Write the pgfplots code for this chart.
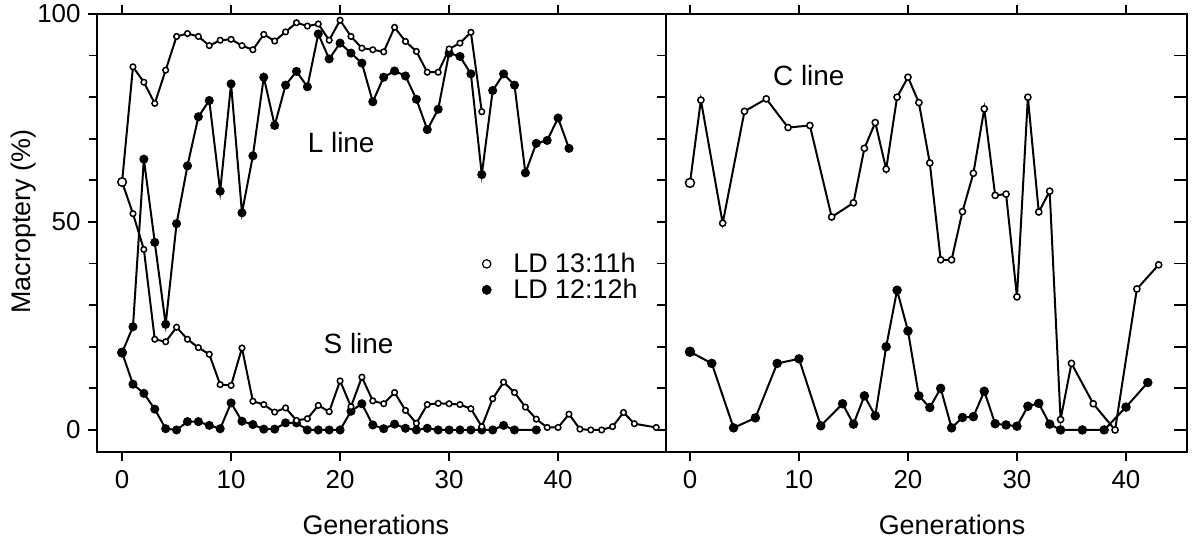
\documentclass[border=0pt]{standalone}
\usepackage{fontspec}
\setmainfont{Liberation Sans}
\usepackage{pgfplots}
\pgfplotsset{compat=1.18}
\newcommand\fs[1]{\fontsize{#1}{#1}\selectfont}

\pgfplotstableread{
g v
0 59.6
1 87.3
2 83.6
3 78.5
4 86.5
5 94.6
6 95.3
7 94.6
8 92.4
9 93.7
10 93.9
11 92.4
12 91.4
13 95.1
14 93.5
15 95.7
16 97.9
17 97.1
18 97.6
19 93.7
20 98.5
21 94.6
22 91.8
23 91.4
24 90.9
25 96.8
26 93.4
27 91.0
28 86.0
29 86.0
30 91.6
31 93.0
32 95.6
33 76.5
}\Lopen

\pgfplotstableread{
g v
0 18.6
1 24.8
2 65.1
3 45.1
4 25.4
5 49.6
6 63.5
7 75.3
8 79.2
9 57.4
10 83.2
11 52.2
12 65.9
13 84.8
14 73.2
15 82.9
16 86.2
17 82.5
18 95.2
19 89.2
20 93.0
21 90.6
22 88.2
23 78.9
24 84.8
25 86.3
26 85.1
27 79.5
28 72.2
29 77.1
30 90.6
31 89.8
32 85.6
33 61.4
34 81.6
35 85.6
36 82.9
37 61.8
38 68.9
39 69.6
40 75.0
41 67.7
}\Lfill

\pgfplotstableread{
g v
0 59.6
1 52.0
2 43.4
3 21.8
4 21.2
5 24.7
6 21.8
7 19.8
8 18.2
9 10.9
10 10.7
11 19.7
12 6.9
13 6.1
14 4.3
15 5.3
16 2.3
17 2.7
18 5.9
19 4.4
20 11.8
21 5.6
22 12.7
23 7.0
24 6.3
25 9.0
26 4.7
27 1.6
28 6.1
29 6.4
30 6.3
31 6.1
32 5.1
33 0.8
34 7.5
35 11.5
36 9.0
37 5.5
38 2.6
39 0.6
40 0.6
41 3.8
42 0.2
43 0.0
44 0.0
45 0.8
46 4.2
47 1.5
49 0.6
}\Sopen

\pgfplotstableread{
g v
0 18.6
1 11.0
2 8.8
3 5.0
4 0.3
5 0.0
6 2.0
7 2.0
8 1.1
9 0.3
10 6.5
11 2.1
12 1.3
13 0.2
14 0.2
15 1.7
16 1.7
17 0.0
18 0.0
19 0.0
20 0.0
21 4.5
22 6.3
23 1.2
24 0.3
25 1.4
26 0.4
27 0.0
28 0.4
29 0.0
30 0.0
31 0.0
32 0.0
33 0.0
34 0.0
35 1.1
36 0.0
38 0.0
}\Sfill

\pgfplotstableread{
g v
0 59.4
1 79.3
3 49.7
5 76.6
7 79.6
9 72.7
11 73.2
13 51.2
15 54.6
16 67.7
17 73.9
18 62.7
19 80.0
20 84.8
21 78.7
22 64.2
23 40.9
24 40.9
25 52.5
26 61.7
27 77.2
28 56.4
29 56.7
30 32.0
31 80.0
32 52.4
33 57.4
34 2.5
35 16.0
37 6.3
39 0.0
41 33.9
43 39.7
}\Copen

\pgfplotstableread{
g v
0 18.8
2 16.0
4 0.5
6 2.9
8 16.0
10 17.1
12 1.0
14 6.3
15 1.4
16 8.2
17 3.4
18 20.0
19 33.6
20 23.8
21 8.2
22 5.4
23 10.0
24 0.5
25 3.0
26 3.2
27 9.3
28 1.5
29 1.2
30 0.9
31 5.7
32 6.4
33 1.4
34 0.0
36 0.0
38 0.0
40 5.5
42 11.4
}\Cfill

\pgfplotsset{
  panel/.style={
    scale only axis, height=438bp,
    ymin=-5.3, ymax=100,
    axis line style={line width=2.2bp},
    every tick/.style={black, line width=1.8bp},
    /pgf/number format/assume math mode=true,
    ticklabel style={font=\fs{26}},
    label style={font=\fs{27}},
  },
  openline/.style={black, line width=2bp, mark=*, mark size=#1, mark options={fill=white, line width=1.5bp}},
  fillline/.style={black, line width=2bp, mark=*, mark size=#1, mark options={fill=black}},
}

\begin{document}
\begin{tikzpicture}
% ---------------- left panel ----------------
\begin{axis}[panel,
  at={(0bp,0bp)}, anchor=south west, width=569bp,
  xmin=-2.3, xmax=49.9,
  tick align=outside, xtick pos=both, xticklabel pos=lower,
  ytick pos=left, yticklabel pos=left,
  xtick={0,10,20,30,40}, ytick={0,50,100},
  minor ytick={10,20,30,40,60,70,80,90},
  major tick length=9bp, minor tick length=8bp,
  xticklabel style={yshift=-6bp},
  yticklabel style={xshift=-4bp},
  xlabel={Generations}, ylabel={Macroptery (\%)},
  xlabel style={at={(ticklabel cs:0.49)}, anchor=north, yshift=-19bp},
  ylabel style={at={(ticklabel cs:0.526)}, yshift=-6bp},
  legend style={draw=none, fill=none, at={(axis cs:33.0,36.8)}, anchor=west,
    font=\fs{27}, row sep=1bp, inner sep=0pt,
    /tikz/every odd column/.append style={column sep=20bp}},
  legend cell align=left,
  legend image code/.code={\draw[#1] plot coordinates {(0bp,0bp)};},
]
\addlegendimage{only marks, black, mark=*, mark size=4.2bp, mark options={fill=white, line width=1.2bp}}
\addlegendentry{LD 13:11h}
\addlegendimage{only marks, black, mark=*, mark size=4.7bp, mark options={fill=black}}
\addlegendentry{LD 12:12h}

\addplot[fillline=3.5bp, forget plot] table[x=g,y=v] {\Lfill};
\addplot[fillline=3.5bp, forget plot] table[x=g,y=v] {\Sfill};
\addplot[openline=2.8bp, forget plot] table[x=g,y=v] {\Lopen};
\addplot[openline=2.8bp, forget plot] table[x=g,y=v] {\Sopen};
\addplot[only marks, black, mark=*, mark size=4.8bp, forget plot] coordinates {(0,18.6)};
\addplot[only marks, black, mark=*, mark size=4.3bp, mark options={fill=white, line width=1.5bp}, forget plot] coordinates {(0,59.6)};

\node[font=\fs{28}] at (axis cs:20.1,69) {L line};
\node[font=\fs{28}] at (axis cs:21.7,20.7) {S line};
\end{axis}

% ---------------- right panel ----------------
\begin{axis}[panel,
  at={(569bp,0bp)}, anchor=south west, width=521bp,
  xmin=-2.2, xmax=45.6,
  tick align=outside, xtick pos=both, xticklabel pos=lower,
  xtick={0,10,20,30,40}, ytick=\empty,
  major tick length=9bp,
  xticklabel style={yshift=-6bp},
  xlabel={Generations},
  xlabel style={at={(ticklabel cs:0.549)}, anchor=north, yshift=-19bp},
]
\addplot[fillline=3.7bp] table[x=g,y=v] {\Cfill};
\addplot[openline=3.1bp] table[x=g,y=v] {\Copen};
\addplot[only marks, black, mark=*, mark size=5bp] coordinates {(0,18.8)};
\addplot[only marks, black, mark=*, mark size=4.5bp, mark options={fill=white, line width=1.5bp}] coordinates {(0,59.4)};
\node[font=\fs{28}] at (axis cs:10.9,85.2) {C line};
\end{axis}

% right-side inward ticks
\begin{axis}[panel,
  at={(569bp,0bp)}, anchor=south west, width=521bp,
  xmin=-2.2, xmax=45.6,
  axis line style={draw=none},
  xtick=\empty, ytick={0,10,...,100}, yticklabels={},
  ytick pos=right, tick align=inside, major tick length=13bp,
]
\end{axis}

% divider ticks pointing into left panel
\begin{axis}[panel,
  at={(569bp,0bp)}, anchor=south west, width=521bp,
  xmin=-2.2, xmax=45.6,
  axis line style={draw=none},
  xtick=\empty, ytick={0,10,...,100}, yticklabels={},
  ytick pos=left, tick align=outside, major tick length=9bp,
]
\end{axis}

\pgfresetboundingbox
\path[use as bounding box] (-97bp,-86bp) rectangle (1101bp,452bp);
\end{tikzpicture}
\end{document}
